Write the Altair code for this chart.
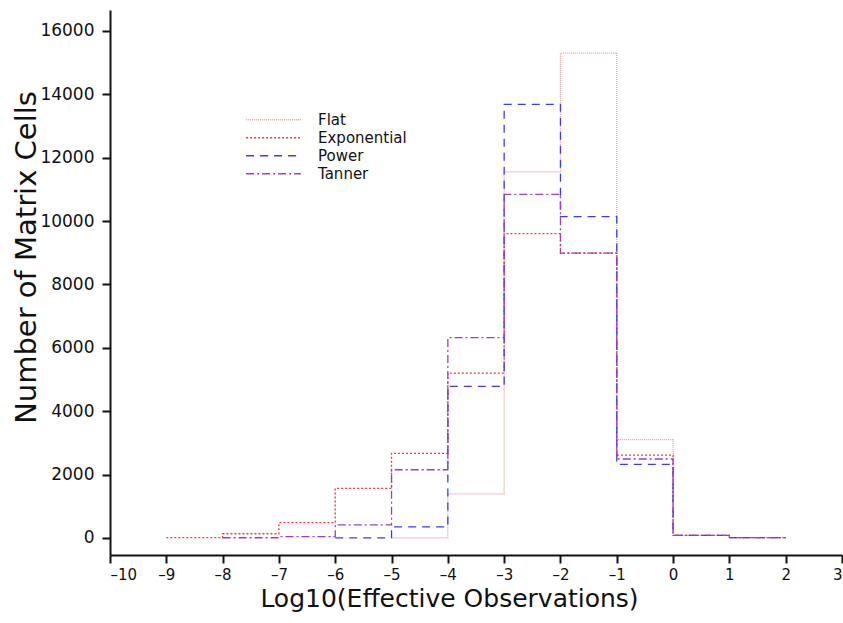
import altair as alt
import pandas as pd

# Histogram bin edges (log10 of effective observations) and counts per prior
series_names = ["Flat", "Exponential", "Power", "Tanner"]

flat_edges = [-5, -4, -3, -2, -1, 0, 1, 2]
flat_counts = [0, 1390, 11550, 15300, 3100, 80, 10]

exp_edges = [-9, -8, -7, -6, -5, -4, -3, -2, -1, 0, 1, 2]
exp_counts = [10, 130, 480, 1560, 2670, 5200, 9600, 8990, 2610, 80, 10]

power_edges = [-6, -5, -4, -3, -2, -1, 0, 1, 2]
power_counts = [0, 350, 4780, 13680, 10140, 2320, 80, 10]

tanner_edges = [-8, -7, -6, -5, -4, -3, -2, -1, 0, 1, 2]
tanner_counts = [5, 40, 410, 2150, 6320, 10840, 8990, 2490, 80, 10]

x_ticks = list(range(-10, 4))
y_ticks = list(range(0, 16001, 2000))

colors = ["#e89a9a", "#ff3333", "#3a3aff", "#a03cc0"]
dashes = [[1, 1], [2, 2], [8, 6], [8, 3, 2, 3]]


def step_rows(name, edges, counts):
    # one point per bin edge; the last edge repeats the last count
    rows = []
    for i, e in enumerate(edges):
        c = counts[i] if i < len(counts) else counts[-1]
        rows.append({"series": name, "x": e, "y": c, "order": i})
    return rows


rows = []
rows += step_rows("Flat", flat_edges, flat_counts)
rows += step_rows("Exponential", exp_edges, exp_counts)
rows += step_rows("Power", power_edges, power_counts)
rows += step_rows("Tanner", tanner_edges, tanner_counts)
df = pd.DataFrame(rows)

font = "DejaVu Sans"

legend_opts = dict(
    title=None,
    orient="none",
    legendX=135,
    legendY=101,
    symbolType="stroke",
    symbolSize=3000,
    symbolStrokeWidth=1.6,
    labelFontSize=15,
    labelFont=font,
    labelColor="#111",
    labelOffset=16,
    rowPadding=0,
    clipHeight=17.5,
    labelLimit=200,
)

chart = (
    alt.Chart(df)
    .mark_line(interpolate="step-after", strokeWidth=1.3)
    .encode(
        x=alt.X(
            "x:Q",
            scale=alt.Scale(domain=[-10, 3], nice=False, zero=False),
            axis=alt.Axis(
                values=x_ticks,
                title="Log10(Effective Observations)",
                grid=False,
                labelExpr="replace(format(datum.value, 'd'), '\u2212', '\u2013')",
                labelFontSize=15,
                titleFontSize=25,
                titleX=339,
                titleY=51,
                titleAlign="center",
                titleBaseline="alphabetic",
            ),
        ),
        y=alt.Y(
            "y:Q",
            scale=alt.Scale(domain=[-540, 16660], nice=False, zero=False),
            axis=alt.Axis(
                values=y_ticks,
                title="Number of Matrix Cells",
                grid=False,
                format="d",
                labelFontSize=17,
                titleFontSize=29,
                titleX=-75,
                titleY=247,
                titleAngle=-90,
                titleAlign="center",
                titleBaseline="alphabetic",
            ),
        ),
        color=alt.Color(
            "series:N",
            scale=alt.Scale(domain=series_names, range=colors),
            legend=alt.Legend(**legend_opts),
        ),
        strokeDash=alt.StrokeDash(
            "series:N",
            scale=alt.Scale(domain=series_names, range=dashes),
            legend=alt.Legend(**legend_opts),
        ),
        order="order:Q",
    )
    .properties(
        width=732,
        height=545,
        autosize=alt.AutoSizeParams(type="none"),
        padding={"left": 110, "top": 10, "right": 1, "bottom": 68},
    )
    .configure_view(stroke=None)
    .configure_axis(
        domainColor="#111",
        domainWidth=2,
        tickColor="#111",
        tickWidth=2,
        tickSize=8,
        labelFont=font,
        labelColor="#111",
        titleFont=font,
        titleFontWeight="normal",
        titleColor="#111",
    )
    .configure_axisX(labelPadding=4)
    .configure_axisY(labelPadding=8)
)

chart.save("out.html", embed_options={"renderer": "svg", "actions": False})
